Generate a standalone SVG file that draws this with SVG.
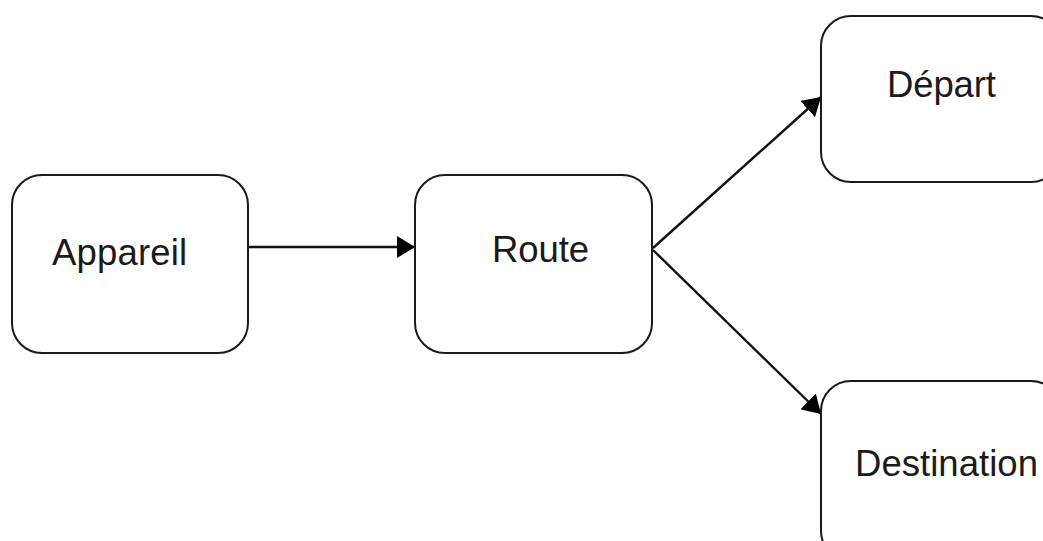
<svg xmlns="http://www.w3.org/2000/svg" width="1043" height="541" viewBox="0 0 1043 541">
<style>
.box{fill:#fff;stroke:#1a1a1a;stroke-width:2}
.lbl{font-family:"Liberation Sans",Arial,sans-serif;font-size:36.5px;fill:#1a1a1a}
.edge{stroke:#111;stroke-width:2.4;fill:none}
</style>
<defs>
<marker id="arr" viewBox="0 0 18 22" refX="18" refY="11" markerWidth="18" markerHeight="22" markerUnits="userSpaceOnUse" orient="auto">
<path d="M0,0 L18,11 L0,22 Z" fill="#000"/>
</marker>
</defs>
<rect width="1043" height="541" fill="#fff"/>
<g id="connectors">
<line class="edge" x1="248" y1="247" x2="415" y2="247" marker-end="url(#arr)"/>
<line class="edge" x1="653" y1="248" x2="821" y2="97" marker-end="url(#arr)"/>
<line class="edge" x1="653" y1="250" x2="821" y2="414" marker-end="url(#arr)"/>
</g>
<g id="appareil">
<rect class="box" x="12" y="175" width="236" height="178" rx="30" ry="30"/>
<text class="lbl" x="52" y="265" textLength="135">Appareil</text>
</g>
<g id="route">
<rect class="box" x="415" y="175" width="237" height="178" rx="30" ry="30"/>
<text class="lbl" x="492" y="262" textLength="97">Route</text>
</g>
<g id="depart">
<rect class="box" x="821" y="16" width="240" height="166" rx="30" ry="30"/>
<text class="lbl" x="887" y="97" textLength="109">Départ</text>
</g>
<g id="destination">
<rect class="box" x="821" y="381" width="240" height="180" rx="30" ry="30"/>
<text class="lbl" x="855" y="476" textLength="183">Destination</text>
</g>
</svg>
